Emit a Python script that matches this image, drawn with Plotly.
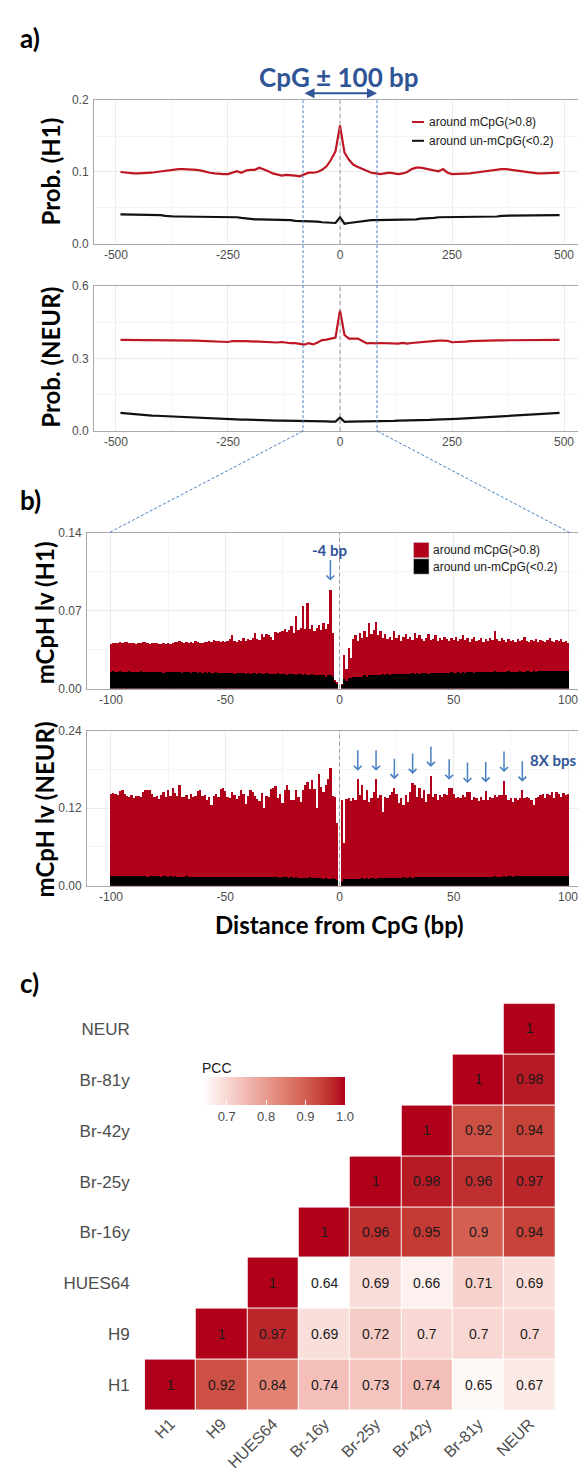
import plotly.graph_objects as go

W, H = 586, 1475

# ---------------- data: panel a (probability around CpG, +/-500 bp) ----------------
LINE_POS = list(range(-490, 500, 10))
H1_M = [0.100, 0.099, 0.099, 0.098, 0.098, 0.098, 0.099, 0.099, 0.100, 0.101,
        0.102, 0.102, 0.103, 0.104, 0.104, 0.104, 0.104, 0.103, 0.102, 0.100,
        0.099, 0.098, 0.097, 0.097, 0.097, 0.099, 0.101, 0.099, 0.102, 0.103,
        0.103, 0.106, 0.104, 0.101, 0.098, 0.096, 0.095, 0.096, 0.096, 0.095,
        0.094, 0.096, 0.099, 0.099, 0.100, 0.103, 0.108, 0.117, 0.129,
        0.165,
        0.127, 0.117, 0.110, 0.107, 0.104, 0.101, 0.099, 0.098, 0.097,
        0.098, 0.099, 0.098, 0.097, 0.098, 0.100, 0.104, 0.106, 0.106, 0.105,
        0.104, 0.102, 0.101, 0.104, 0.099, 0.097, 0.097, 0.097, 0.098, 0.098,
        0.099, 0.100, 0.101, 0.102, 0.103, 0.104, 0.104, 0.104, 0.103, 0.102,
        0.101, 0.100, 0.099, 0.099, 0.098, 0.098, 0.098, 0.098, 0.099, 0.099]
H1_U = [0.041, 0.041, 0.041, 0.041, 0.041, 0.041, 0.041, 0.041, 0.040, 0.040,
        0.039, 0.038, 0.038, 0.038, 0.038, 0.038, 0.038, 0.038, 0.038, 0.038,
        0.038, 0.037, 0.037, 0.037, 0.038, 0.038, 0.037, 0.036, 0.035, 0.035,
        0.034, 0.034, 0.034, 0.033, 0.033, 0.033, 0.033, 0.033, 0.033, 0.032,
        0.032, 0.032, 0.032, 0.031, 0.031, 0.030, 0.030, 0.029, 0.029,
        0.037,
        0.028, 0.029, 0.030, 0.031, 0.032, 0.032, 0.033, 0.033, 0.033,
        0.033, 0.033, 0.033, 0.033, 0.033, 0.034, 0.034, 0.034, 0.035, 0.035,
        0.036, 0.036, 0.037, 0.037, 0.038, 0.037, 0.037, 0.037, 0.037, 0.037,
        0.037, 0.037, 0.037, 0.038, 0.038, 0.038, 0.039, 0.039, 0.040, 0.040,
        0.040, 0.040, 0.040, 0.040, 0.040, 0.040, 0.040, 0.040, 0.040, 0.040]
NEUR_M = [0.377, 0.377, 0.376, 0.376, 0.375, 0.375, 0.375, 0.375, 0.375, 0.374,
          0.375, 0.375, 0.375, 0.375, 0.375, 0.375, 0.375, 0.374, 0.373, 0.372,
          0.370, 0.369, 0.368, 0.367, 0.368, 0.372, 0.373, 0.373, 0.372, 0.371,
          0.370, 0.370, 0.369, 0.366, 0.364, 0.366, 0.368, 0.365, 0.363, 0.363,
          0.360, 0.357, 0.363, 0.358, 0.366, 0.376, 0.378, 0.381, 0.386,
          0.500,
          0.397, 0.382, 0.381, 0.382, 0.372, 0.362, 0.364, 0.362, 0.364,
          0.363, 0.360, 0.359, 0.361, 0.364, 0.361, 0.364, 0.366, 0.368, 0.369,
          0.371, 0.372, 0.374, 0.374, 0.373, 0.367, 0.367, 0.368, 0.370, 0.372,
          0.373, 0.374, 0.375, 0.375, 0.375, 0.375, 0.375, 0.375, 0.375, 0.375,
          0.376, 0.376, 0.376, 0.377, 0.377, 0.377, 0.377, 0.377, 0.377, 0.377]
NEUR_U = [0.075, 0.073, 0.071, 0.070, 0.068, 0.067, 0.066, 0.064, 0.063, 0.062,
          0.061, 0.060, 0.059, 0.058, 0.057, 0.056, 0.055, 0.054, 0.053, 0.053,
          0.052, 0.051, 0.050, 0.050, 0.049, 0.049, 0.048, 0.047, 0.047, 0.046,
          0.046, 0.045, 0.045, 0.044, 0.044, 0.043, 0.043, 0.043, 0.042, 0.042,
          0.042, 0.041, 0.041, 0.041, 0.040, 0.040, 0.040, 0.039, 0.039,
          0.056,
          0.038, 0.039, 0.039, 0.040, 0.040, 0.040, 0.041, 0.041, 0.041,
          0.042, 0.042, 0.042, 0.043, 0.043, 0.044, 0.044, 0.045, 0.045, 0.046,
          0.046, 0.047, 0.047, 0.048, 0.049, 0.050, 0.050, 0.051, 0.052, 0.053,
          0.053, 0.054, 0.055, 0.056, 0.057, 0.058, 0.059, 0.060, 0.061, 0.062,
          0.063, 0.064, 0.066, 0.067, 0.068, 0.069, 0.071, 0.072, 0.073, 0.075]

# ---------------- data: panel b (mCpH level per bp, +/-100 bp) ----------------
BAR_POS = list(range(-100, 0)) + list(range(1, 101))
H1_MCPH_M = [
    0.040, 0.041, 0.041, 0.041, 0.042, 0.041, 0.042, 0.042, 0.041, 0.041,
    0.041, 0.040, 0.041, 0.041, 0.042, 0.042, 0.041, 0.040, 0.041, 0.041,
    0.041, 0.040, 0.040, 0.041, 0.040, 0.041, 0.040, 0.041, 0.042, 0.042,
    0.043, 0.042, 0.041, 0.042, 0.041, 0.042, 0.041, 0.043, 0.042, 0.041,
    0.041, 0.042, 0.042, 0.043, 0.042, 0.044, 0.043, 0.043, 0.042, 0.043,
    0.042, 0.043, 0.045, 0.048, 0.043, 0.042, 0.044, 0.043, 0.046, 0.043,
    0.045, 0.044, 0.046, 0.050, 0.045, 0.044, 0.049, 0.047, 0.049, 0.048,
    0.047, 0.044, 0.051, 0.050, 0.051, 0.052, 0.054, 0.051, 0.053, 0.056,
    0.050, 0.065, 0.053, 0.055, 0.074, 0.054, 0.077, 0.054, 0.057, 0.052,
    0.055, 0.057, 0.053, 0.059, 0.054, 0.058, 0.089, 0.050, 0.008, 0.006,
    0.004, 0.030, 0.018, 0.037, 0.028, 0.045, 0.048, 0.043, 0.050, 0.046,
    0.052, 0.047, 0.059, 0.049, 0.053, 0.060, 0.048, 0.052, 0.046, 0.049,
    0.045, 0.047, 0.044, 0.052, 0.046, 0.048, 0.043, 0.047, 0.049, 0.045,
    0.047, 0.044, 0.050, 0.046, 0.048, 0.045, 0.043, 0.046, 0.049, 0.044,
    0.045, 0.048, 0.043, 0.046, 0.044, 0.047, 0.045, 0.043, 0.046, 0.044,
    0.047, 0.043, 0.045, 0.048, 0.044, 0.046, 0.042, 0.045, 0.047, 0.043,
    0.044, 0.046, 0.042, 0.045, 0.043, 0.046, 0.044, 0.052, 0.045, 0.043,
    0.046, 0.044, 0.042, 0.045, 0.043, 0.044, 0.042, 0.045, 0.043, 0.044,
    0.047, 0.043, 0.042, 0.044, 0.043, 0.045, 0.042, 0.044, 0.043, 0.042,
    0.044, 0.046, 0.043, 0.042, 0.044, 0.043, 0.045, 0.042, 0.043, 0.041]
H1_MCPH_U = [
    0.015, 0.016, 0.015, 0.015, 0.016, 0.015, 0.015, 0.015, 0.016, 0.015,
    0.015, 0.015, 0.015, 0.016, 0.015, 0.015, 0.015, 0.015, 0.015, 0.015,
    0.015, 0.015, 0.015, 0.014, 0.015, 0.015, 0.015, 0.015, 0.015, 0.015,
    0.015, 0.014, 0.015, 0.015, 0.015, 0.014, 0.015, 0.015, 0.014, 0.015,
    0.014, 0.015, 0.014, 0.015, 0.014, 0.014, 0.015, 0.014, 0.014, 0.014,
    0.014, 0.014, 0.014, 0.014, 0.013, 0.014, 0.014, 0.014, 0.014, 0.013,
    0.014, 0.013, 0.014, 0.014, 0.013, 0.014, 0.013, 0.013, 0.014, 0.013,
    0.013, 0.013, 0.013, 0.014, 0.013, 0.013, 0.013, 0.012, 0.013, 0.013,
    0.013, 0.012, 0.013, 0.013, 0.012, 0.013, 0.012, 0.012, 0.013, 0.012,
    0.012, 0.012, 0.012, 0.012, 0.011, 0.012, 0.012, 0.011, 0.006, 0.004,
    0.003, 0.009, 0.007, 0.010, 0.010, 0.011, 0.011, 0.011, 0.011, 0.011,
    0.012, 0.011, 0.012, 0.012, 0.012, 0.012, 0.012, 0.012, 0.013, 0.012,
    0.013, 0.012, 0.013, 0.013, 0.013, 0.013, 0.013, 0.013, 0.013, 0.013,
    0.013, 0.014, 0.013, 0.014, 0.013, 0.014, 0.014, 0.014, 0.013, 0.014,
    0.014, 0.014, 0.014, 0.014, 0.014, 0.014, 0.014, 0.014, 0.015, 0.014,
    0.014, 0.015, 0.014, 0.015, 0.014, 0.015, 0.015, 0.015, 0.014, 0.015,
    0.015, 0.015, 0.015, 0.015, 0.015, 0.015, 0.015, 0.016, 0.015, 0.015,
    0.015, 0.015, 0.015, 0.016, 0.015, 0.015, 0.015, 0.015, 0.016, 0.015,
    0.015, 0.016, 0.016, 0.015, 0.016, 0.015, 0.016, 0.016, 0.016, 0.016,
    0.016, 0.016, 0.016, 0.016, 0.016, 0.016, 0.016, 0.016, 0.016, 0.016]
NEUR_MCPH_M = [
    0.142, 0.144, 0.143, 0.141, 0.147, 0.149, 0.143, 0.139, 0.138, 0.141,
    0.136, 0.139, 0.140, 0.137, 0.146, 0.148, 0.149, 0.149, 0.143, 0.137,
    0.140, 0.135, 0.141, 0.146, 0.138, 0.148, 0.139, 0.151, 0.144, 0.139,
    0.156, 0.137, 0.138, 0.141, 0.135, 0.142, 0.137, 0.139, 0.147, 0.148,
    0.139, 0.141, 0.133, 0.137, 0.126, 0.139, 0.142, 0.138, 0.150, 0.152,
    0.147, 0.138, 0.136, 0.146, 0.141, 0.135, 0.139, 0.148, 0.143, 0.127,
    0.140, 0.149, 0.146, 0.139, 0.135, 0.131, 0.144, 0.121, 0.139, 0.137,
    0.150, 0.152, 0.154, 0.136, 0.143, 0.128, 0.149, 0.156, 0.148, 0.133,
    0.133, 0.148, 0.137, 0.130, 0.148, 0.156, 0.161, 0.150, 0.164, 0.150,
    0.120, 0.174, 0.153, 0.146, 0.156, 0.166, 0.182, 0.140, 0.138, 0.097,
    0.133, 0.066, 0.135, 0.136, 0.131, 0.136, 0.133, 0.165, 0.141, 0.156,
    0.133, 0.148, 0.130, 0.136, 0.146, 0.165, 0.136, 0.141, 0.115, 0.138,
    0.136, 0.141, 0.146, 0.152, 0.143, 0.128, 0.136, 0.126, 0.141, 0.130,
    0.146, 0.160, 0.156, 0.138, 0.151, 0.136, 0.148, 0.130, 0.143, 0.171,
    0.138, 0.143, 0.133, 0.141, 0.138, 0.143, 0.141, 0.151, 0.151, 0.143,
    0.136, 0.138, 0.136, 0.141, 0.137, 0.146, 0.146, 0.133, 0.138, 0.136,
    0.131, 0.138, 0.133, 0.147, 0.133, 0.138, 0.136, 0.141, 0.138, 0.141,
    0.141, 0.163, 0.141, 0.133, 0.136, 0.130, 0.136, 0.133, 0.136, 0.148,
    0.136, 0.138, 0.136, 0.133, 0.125, 0.136, 0.138, 0.141, 0.143, 0.136,
    0.143, 0.141, 0.146, 0.136, 0.146, 0.143, 0.138, 0.144, 0.141, 0.143]
NEUR_MCPH_U = [
    0.015, 0.016, 0.015, 0.015, 0.015, 0.015, 0.015, 0.015, 0.015, 0.015,
    0.015, 0.015, 0.015, 0.015, 0.015, 0.015, 0.014, 0.015, 0.015, 0.015,
    0.015, 0.015, 0.014, 0.015, 0.015, 0.014, 0.015, 0.014, 0.015, 0.014,
    0.014, 0.014, 0.014, 0.015, 0.014, 0.014, 0.014, 0.014, 0.014, 0.014,
    0.014, 0.014, 0.014, 0.014, 0.014, 0.014, 0.013, 0.014, 0.014, 0.014,
    0.014, 0.013, 0.014, 0.014, 0.013, 0.014, 0.013, 0.014, 0.013, 0.013,
    0.013, 0.013, 0.014, 0.013, 0.013, 0.013, 0.013, 0.013, 0.013, 0.013,
    0.013, 0.013, 0.013, 0.013, 0.012, 0.013, 0.013, 0.013, 0.012, 0.013,
    0.012, 0.013, 0.012, 0.012, 0.012, 0.012, 0.012, 0.013, 0.012, 0.012,
    0.012, 0.012, 0.012, 0.011, 0.012, 0.011, 0.011, 0.012, 0.010, 0.009,
    0.006, 0.011, 0.010, 0.011, 0.011, 0.011, 0.011, 0.011, 0.011, 0.012,
    0.011, 0.012, 0.011, 0.012, 0.012, 0.011, 0.012, 0.012, 0.012, 0.012,
    0.012, 0.012, 0.012, 0.012, 0.012, 0.012, 0.012, 0.013, 0.012, 0.012,
    0.013, 0.012, 0.013, 0.013, 0.013, 0.013, 0.013, 0.013, 0.013, 0.013,
    0.013, 0.013, 0.013, 0.013, 0.013, 0.014, 0.013, 0.013, 0.014, 0.013,
    0.014, 0.014, 0.014, 0.013, 0.014, 0.014, 0.014, 0.014, 0.014, 0.014,
    0.014, 0.014, 0.014, 0.014, 0.014, 0.014, 0.014, 0.015, 0.014, 0.014,
    0.014, 0.015, 0.014, 0.015, 0.015, 0.014, 0.015, 0.015, 0.015, 0.015,
    0.015, 0.015, 0.015, 0.015, 0.015, 0.015, 0.015, 0.015, 0.015, 0.015,
    0.015, 0.015, 0.015, 0.015, 0.016, 0.015, 0.015, 0.015, 0.015, 0.015]
H1_ARROW_BP = [-4]
NEUR_ARROW_BPS = [8, 16, 24, 32, 40, 48, 56, 64, 72, 80]

# ---------------- data: panel c (PCC heatmap) ----------------
SAMPLES = ["H1", "H9", "HUES64", "Br-16y", "Br-25y", "Br-42y", "Br-81y", "NEUR"]
PCC_H1 = [1, 0.92, 0.84, 0.74, 0.73, 0.74, 0.65, 0.67]
PCC_H9 = [None, 1, 0.97, 0.69, 0.72, 0.7, 0.7, 0.7]
PCC_HUES64 = [None, None, 1, 0.64, 0.69, 0.66, 0.71, 0.69]
PCC_BR16 = [None, None, None, 1, 0.96, 0.95, 0.9, 0.94]
PCC_BR25 = [None, None, None, None, 1, 0.98, 0.96, 0.97]
PCC_BR42 = [None, None, None, None, None, 1, 0.92, 0.94]
PCC_BR81 = [None, None, None, None, None, None, 1, 0.98]
PCC_NEUR = [None, None, None, None, None, None, None, 1]
PCC_TICKS = [0.7, 0.8, 0.9, 1.0]

for arr in (H1_M, H1_U, NEUR_M, NEUR_U):
    assert len(arr) == len(LINE_POS), len(arr)
for arr in (H1_MCPH_M, H1_MCPH_U, NEUR_MCPH_M, NEUR_MCPH_U):
    assert len(arr) == len(BAR_POS), len(arr)

# ---------------- styling ----------------
RED_LINE = "#BE1622"
RED_BAR = "#B0001A"
BLUE_TXT = "#2F5597"
BLUE_LN = "#4A7FC1"
GRID = "#EBEBEB"
GRID_MINOR = "#F4F4F4"
BORDER = "#A8A8A8"
TICK_COL = "#4D4D4D"
SANS = "Liberation Sans, Arial, sans-serif"
PPT = "Lato, Open Sans, sans-serif"


def fx(px):
    return px / W


def fy(py):
    return 1 - py / H


fig = go.Figure()

# panel a
fig.add_trace(go.Scatter(x=LINE_POS, y=H1_M, mode="lines", line=dict(color=RED_LINE, width=2.2), xaxis="x", yaxis="y"))
fig.add_trace(go.Scatter(x=LINE_POS, y=H1_U, mode="lines", line=dict(color="#111111", width=2.2), xaxis="x", yaxis="y"))
fig.add_trace(go.Scatter(x=LINE_POS, y=NEUR_M, mode="lines", line=dict(color=RED_LINE, width=2.2), xaxis="x2", yaxis="y2"))
fig.add_trace(go.Scatter(x=LINE_POS, y=NEUR_U, mode="lines", line=dict(color="#111111", width=2.2), xaxis="x2", yaxis="y2"))

# panel b
for ys, col, xa, ya in [(H1_MCPH_M, RED_BAR, "x3", "y3"), (H1_MCPH_U, "#000000", "x3", "y3"),
                        (NEUR_MCPH_M, RED_BAR, "x4", "y4"), (NEUR_MCPH_U, "#000000", "x4", "y4")]:
    fig.add_trace(go.Bar(x=BAR_POS, y=ys, width=1, marker=dict(color=col, line=dict(width=0)),
                         xaxis=xa, yaxis=ya))

# panel c
rows = [PCC_H1, PCC_H9, PCC_HUES64, PCC_BR16, PCC_BR25, PCC_BR42, PCC_BR81, PCC_NEUR]
text = [["" if v is None else f"{v:g}" for v in r] for r in rows]
PCC_SCALE = [
    [0.0, "rgb(255,255,255)"],
    [0.083, "rgb(252,234,231)"],
    [0.167, "rgb(249,216,211)"],
    [0.278, "rgb(243,191,184)"],
    [0.556, "rgb(225,130,115)"],
    [0.722, "rgb(211,95,82)"],
    [0.833, "rgb(199,66,56)"],
    [0.917, "rgb(187,38,42)"],
    [1.0, "rgb(176,0,26)"],
]
fig.add_trace(go.Heatmap(
    x=SAMPLES, y=SAMPLES, z=rows, text=text, texttemplate="%{text}",
    textfont=dict(size=14, color="#1A1A1A", family=SANS),
    colorscale=PCC_SCALE, zmin=0.64, zmax=1.0, xgap=1, ygap=1, hoverongaps=False,
    xaxis="x5", yaxis="y5",
    colorbar=dict(orientation="h", x=fx(195), xanchor="left", y=fy(1071.7), yanchor="top",
                  len=141.7, lenmode="pixels", thickness=28, thicknessmode="pixels",
                  xpad=0, ypad=0, outlinewidth=0, tickvals=PCC_TICKS,
                  ticktext=[f"{t:.1f}" for t in PCC_TICKS], ticks="inside", ticklen=5,
                  tickcolor="white", tickfont=dict(size=13, color=TICK_COL, family=SANS)),
))


def panel_axes(n, xdom, ydom, xr, xt, xminor, yr, yt, ytext, yminor):
    xa = dict(domain=[fx(xdom[0]), fx(xdom[1])], range=xr, tickvals=xt, anchor="y" + n,
              ticktext=[str(v) for v in xt], showgrid=True, gridcolor=GRID, gridwidth=1,
              minor=dict(tickvals=xminor, showgrid=True, gridcolor=GRID_MINOR, gridwidth=1),
              zeroline=False, showline=True, mirror=True, linecolor=BORDER, linewidth=1,
              ticks="", tickfont=dict(size=12, color=TICK_COL, family=SANS), fixedrange=True)
    ya = dict(domain=[fy(ydom[1]), fy(ydom[0])], range=yr, tickvals=yt, ticktext=ytext, anchor="x" + n,
              showgrid=True, gridcolor=GRID, gridwidth=1,
              minor=dict(tickvals=yminor, showgrid=True, gridcolor=GRID_MINOR, gridwidth=1),
              zeroline=False, showline=True, mirror=True, linecolor=BORDER, linewidth=1,
              ticks="", tickfont=dict(size=12, color=TICK_COL, family=SANS), fixedrange=True,
              ticklabelstandoff=2)
    return xa, ya


xa1, ya1 = panel_axes("", (86, 578), (86, 231), [-549, 549], [-500, -250, 0, 250, 500], [-375, -125, 125, 375],
                      [0, 0.2], [0, 0.1, 0.2], ["0.0", "0.1", "0.2"], [0.05, 0.15])
xa2, ya2 = panel_axes("2", (86, 578), (273.5, 420), [-549, 549], [-500, -250, 0, 250, 500], [-375, -125, 125, 375],
                      [0, 0.6], [0, 0.3, 0.6], ["0.0", "0.3", "0.6"], [0.15, 0.45])
xa3, ya3 = panel_axes("3", (79, 584), (522.7, 680), [-110.5, 110.5], [-100, -50, 0, 50, 100], [-75, -25, 25, 75],
                      [0, 0.14], [0, 0.07, 0.14], ["0.00", "0.07", "0.14"], [0.035, 0.105])
xa4, ya4 = panel_axes("4", (79, 584), (722.7, 879), [-110.5, 110.5], [-100, -50, 0, 50, 100], [-75, -25, 25, 75],
                      [0, 0.24], [0, 0.12, 0.24], ["0.00", "0.12", "0.24"], [0.06, 0.18])

xa5 = dict(domain=[fx(136.7), fx(547.2)], anchor="y5", type="category", categoryorder="array",
           categoryarray=SAMPLES, showgrid=False, zeroline=False, showline=False, ticks="", tickangle=-45,
           tickfont=dict(size=16, color=TICK_COL, family=SANS), ticklabelstandoff=0, fixedrange=True)
ya5 = dict(domain=[fy(1409), fy(998)], anchor="x5", type="category", categoryorder="array",
           categoryarray=SAMPLES, showgrid=False, zeroline=False, showline=False, ticks="",
           tickfont=dict(size=17, color=TICK_COL, family=SANS), ticklabelstandoff=14, fixedrange=True)

shapes = []
# zero dashed lines
for xr_, yr_ in (("x", "y"), ("x2", "y2"), ("x3", "y3"), ("x4", "y4")):
    shapes.append(dict(type="line", xref=xr_, yref=yr_ + " domain", x0=0, x1=0, y0=0, y1=1,
                       line=dict(color="#9A9A9A", width=1, dash="4px,3px"), layer="above"))
# blue dashed zoom guides
for x0, x1 in ((295, 101), (369, 562)):
    shapes.append(dict(type="line", xref="paper", yref="paper", x0=fx(x0), x1=fx(x0), y0=fy(86), y1=fy(420),
                       line=dict(color=BLUE_LN, width=1, dash="3px,2px"), layer="above"))
    shapes.append(dict(type="line", xref="paper", yref="paper", x0=fx(x0), x1=fx(x1), y0=fy(420), y1=fy(522.7),
                       line=dict(color=BLUE_LN, width=1, dash="3px,2px"), layer="above"))
# legend keys a
shapes.append(dict(type="line", xref="paper", yref="paper", x0=fx(404), x1=fx(416), y0=fy(108), y1=fy(108),
                   line=dict(color=RED_LINE, width=2)))
shapes.append(dict(type="line", xref="paper", yref="paper", x0=fx(404), x1=fx(416), y0=fy(127), y1=fy(127),
                   line=dict(color="#111111", width=2)))
# legend keys b
shapes.append(dict(type="rect", xref="paper", yref="paper", x0=fx(405.5), x1=fx(421), y0=fy(548), y1=fy(532.5),
                   fillcolor=RED_BAR, line=dict(color="#D0D0D0", width=0.6)))
shapes.append(dict(type="rect", xref="paper", yref="paper", x0=fx(405.5), x1=fx(421), y0=fy(564.5), y1=fy(549),
                   fillcolor="#000000", line=dict(color="#D0D0D0", width=0.6)))

ann = []


def txt(x, y, s, size, color="#000000", family=PPT, bold=False, xanchor="center", angle=0):
    ann.append(dict(x=fx(x), y=fy(y), xref="paper", yref="paper", text=f"<b>{s}</b>" if bold else s,
                    showarrow=False, xanchor=xanchor, yanchor="middle", textangle=angle,
                    font=dict(size=size, color=color, family=family)))


txt(10, 23, "a)", 26, bold=True, xanchor="left")
txt(10, 490, "b)", 26, bold=True, xanchor="left")
txt(10, 977, "c)", 26, bold=True, xanchor="left")
txt(331, 63, "CpG ± 100 bp", 26, color=BLUE_TXT, bold=True)
txt(43, 158, "Prob. (H1)", 24, bold=True, angle=-90)
txt(43, 346, "Prob. (NEUR)", 24, bold=True, angle=-90)
txt(36, 604, "mCpH lv (H1)", 24, bold=True, angle=-90)
txt(36, 802, "mCpH lv (NEUR)", 24, bold=True, angle=-90)
txt(331.5, 918, "Distance from CpG (bp)", 24, bold=True)
txt(419, 108, "around mCpG(>0.8)", 12, color="#1A1A1A", family=SANS, xanchor="left")
txt(419, 127, "around un-mCpG(<0.2)", 12, color="#1A1A1A", family=SANS, xanchor="left")
txt(423, 540, "around mCpG(>0.8)", 12, color="#1A1A1A", family=SANS, xanchor="left")
txt(423, 557, "around un-mCpG(<0.2)", 12, color="#1A1A1A", family=SANS, xanchor="left")
txt(321.5, 540, "-4 bp", 15, color=BLUE_TXT, bold=True)
txt(545, 752, "8X bps", 15, color=BLUE_TXT, bold=True)
txt(192, 1063, "PCC", 14, color="#1A1A1A", family=SANS, xanchor="left")

# double arrow CpG +/- 100
ann.append(dict(x=fx(369), y=fy(79), xref="paper", yref="paper", ax=-74, ay=0, axref="pixel", ayref="pixel",
                text="", showarrow=True, arrowhead=2, startarrowhead=2, arrowside="end+start",
                arrowwidth=2, arrowsize=1, startarrowsize=1, arrowcolor=BLUE_TXT))

# data arrows
for bp in H1_ARROW_BP:
    v = H1_MCPH_M[BAR_POS.index(bp)]
    ann.append(dict(x=bp, y=v + 0.008, xref="x3", yref="y3", ax=0, ay=-22, text="", showarrow=True,
                    arrowhead=4, arrowwidth=1.5, arrowsize=1, arrowcolor=BLUE_LN))
for bp in NEUR_ARROW_BPS:
    v = NEUR_MCPH_M[BAR_POS.index(bp)]
    ann.append(dict(x=bp, y=v + 0.013, xref="x4", yref="y4", ax=0, ay=-22, text="", showarrow=True,
                    arrowhead=4, arrowwidth=1.5, arrowsize=1, arrowcolor=BLUE_LN))

fig.update_layout(
    width=W, height=H, autosize=False, margin=dict(l=0, r=0, t=0, b=0),
    paper_bgcolor="white", plot_bgcolor="white", showlegend=False,
    barmode="overlay", bargap=0,
    font=dict(family=SANS, color=TICK_COL),
    xaxis=xa1, yaxis=ya1, xaxis2=xa2, yaxis2=ya2, xaxis3=xa3, yaxis3=ya3,
    xaxis4=xa4, yaxis4=ya4, xaxis5=xa5, yaxis5=ya5,
    shapes=shapes, annotations=ann,
)

fig.write_html("out.html")
